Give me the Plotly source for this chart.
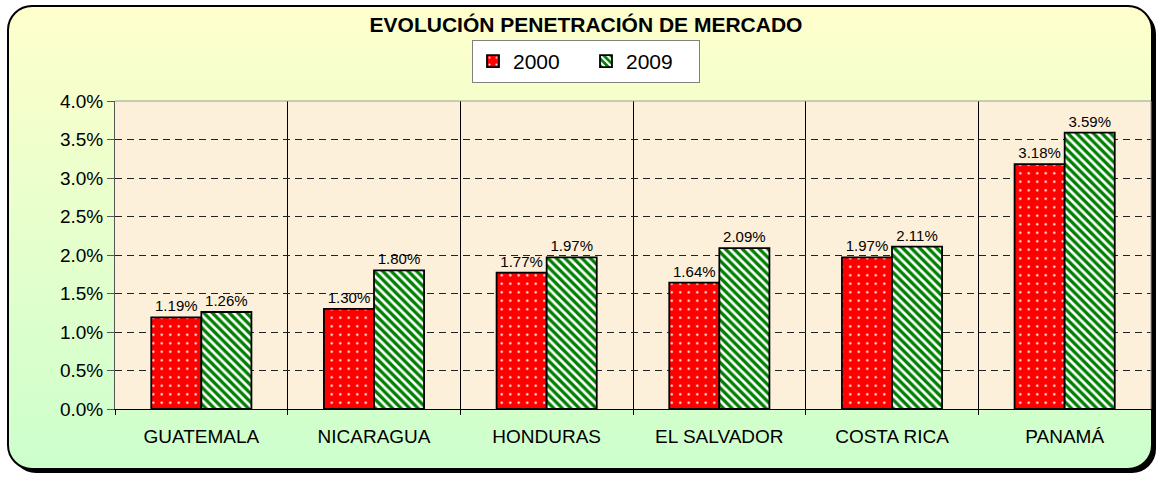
import base64
import plotly.graph_objects as go

# ---- data ----
countries = ["GUATEMALA", "NICARAGUA", "HONDURAS", "EL SALVADOR", "COSTA RICA", "PANAMÁ"]
y2000 = [0.0119, 0.0130, 0.0177, 0.0164, 0.0197, 0.0318]
y2009 = [0.0126, 0.0180, 0.0197, 0.0209, 0.0211, 0.0359]
series_names = ["2000", "2009"]
title_text = "EVOLUCIÓN PENETRACIÓN DE MERCADO"

# ---- layout geometry ----
W, H = 1158, 481
ML, MR, MT, MB = 115, 7, 101, 72
PW, PH = W - ML - MR, H - MT - MB
FONT = "Arial, Liberation Sans, sans-serif"

# background: rounded box with vertical yellow->green gradient, drop shadow, beige plot area
svg = f'''<svg xmlns="http://www.w3.org/2000/svg" width="{W}" height="{H}" viewBox="0 0 {W} {H}">
<defs><linearGradient id="g" x1="0" y1="0" x2="0" y2="1">
<stop offset="0" stop-color="#FFFFCC"/><stop offset="1" stop-color="#CCFFCC"/></linearGradient></defs>
<rect x="12" y="10" width="1144" height="463" rx="24" ry="24" fill="#000"/>
<rect x="8" y="6" width="1144" height="463" rx="24" ry="24" fill="url(#g)" stroke="#000" stroke-width="2"/>
<rect x="{ML}" y="{MT}" width="{PW}" height="{PH}" fill="#FDF0DA"/>
</svg>'''
bg_uri = "data:image/svg+xml;base64," + base64.b64encode(svg.encode()).decode()

fig = go.Figure()
fig.add_trace(go.Bar(
    name=series_names[0], x=countries, y=y2000,
    marker=dict(color="#FF0000", line=dict(color="#000000", width=1.8),
                pattern=dict(shape=".", bgcolor="#FF0000", fgcolor="#FFFFFF",
                             size=8.5, solidity=0.06, fillmode="replace")),
    text=[f"{v*100:.2f}%" for v in y2000], textposition="outside",
    textfont=dict(family=FONT, size=15, color="#000000"), cliponaxis=False,
))
fig.add_trace(go.Bar(
    name=series_names[1], x=countries, y=y2009,
    marker=dict(color="#008000", line=dict(color="#000000", width=1.8),
                pattern=dict(shape="\\", bgcolor="#008000", fgcolor="#FFFFFF",
                             size=6, solidity=0.45, fillmode="replace")),
    text=[f"{v*100:.2f}%" for v in y2009], textposition="outside",
    textfont=dict(family=FONT, size=15, color="#000000"), cliponaxis=False,
))

fig.update_layout(
    width=W, height=H,
    margin=dict(l=ML, r=MR, t=MT, b=MB, pad=0),
    paper_bgcolor="rgba(0,0,0,0)",
    plot_bgcolor="rgba(0,0,0,0)",
    barmode="group", bargap=0.42, bargroupgap=0,
    font=dict(family=FONT, color="#000000"),
    title=dict(text=f"<b>{title_text}</b>", x=586 / W, xanchor="center",
               y=1 - 25 / H, yanchor="middle", yref="container",
               font=dict(family=FONT, size=21, color="#000000")),
    legend=dict(orientation="h", x=(586 - ML) / PW, xanchor="center",
                y=1 + (MT - 40) / PH, yanchor="top",
                bgcolor="#FFFFFF", bordercolor="#808080", borderwidth=1,
                font=dict(family=FONT, size=21, color="#000000"),
                entrywidth=68, entrywidthmode="pixels",
                traceorder="normal"),
    showlegend=True,
    images=[dict(source=bg_uri, xref="paper", yref="paper",
                 x=-ML / PW, y=1 + MT / PH, sizex=W / PW, sizey=H / PH,
                 xanchor="left", yanchor="top", sizing="stretch", layer="below")],
    xaxis=dict(type="category", tickson="boundaries", showgrid=True,
               gridcolor="#000000", gridwidth=1,
               ticks="outside", ticklen=5, tickcolor="#000000",
               showline=True, linecolor="#000000", linewidth=1,
               tickfont=dict(family=FONT, size=19, color="#000000"),
               ticklabelstandoff=10),
    yaxis=dict(range=[0, 0.04], dtick=0.005, tickformat=".1%",
               showgrid=True, gridcolor="#222222", gridwidth=1, griddash="7px,5px",
               ticks="outside", ticklen=7, tickcolor="#555555",
               showline=True, linecolor="#555555", linewidth=1,
               zeroline=False,
               tickfont=dict(family=FONT, size=19, color="#000000")),
    shapes=[
        dict(type="line", xref="x domain", yref="y domain", x0=0, x1=1, y0=1, y1=1,
             line=dict(color="#999999", width=1)),
        dict(type="line", xref="x domain", yref="y domain", x0=1, x1=1, y0=0, y1=1,
             line=dict(color="#999999", width=1)),
    ],
)

fig.write_html("out.html", config={"displayModeBar": False},
               post_script="document.body.style.margin='0';")
